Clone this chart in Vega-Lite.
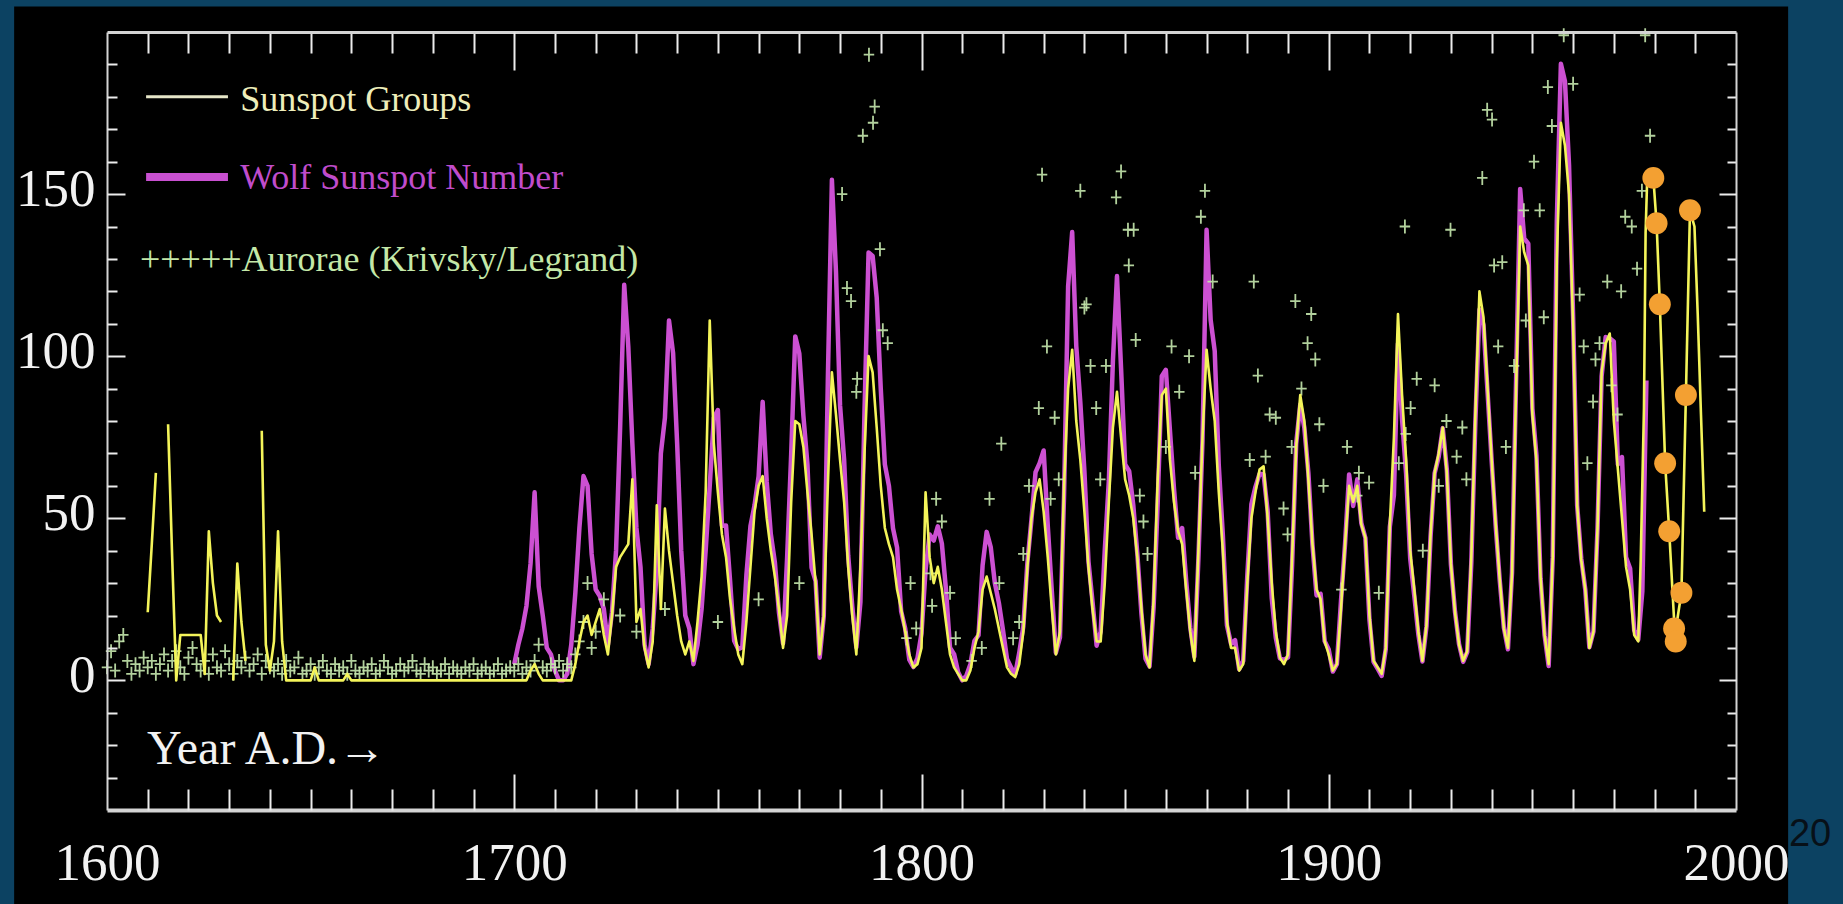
{
  "$schema": "https://vega.github.io/schema/vega-lite/v6.json",
  "width": 1629,
  "height": 778,
  "autosize": {"type": "none"},
  "padding": {"left": 107, "top": 32, "right": 107, "bottom": 94},
  "background": "#0c4262",
  "config": {
    "view": {"stroke": null},
    "axis": {
      "grid": false, "labelFlush": false, "labelOverlap": false, "labelBound": false,
      "tickColor": "#ececec", "tickWidth": 2, "domainColor": "#d4d4d4",
      "labelColor": "#f2f2f2", "labelFont": "Liberation Serif", "labelFontSize": 53
    }
  },
  "datasets": {
    "wolf": [
      {"year":1700,"ssn":5},{"year":1701,"ssn":11},{"year":1702,"ssn":16},{"year":1703,"ssn":23},{"year":1704,"ssn":36},{"year":1705,"ssn":58},{"year":1706,"ssn":29},{"year":1707,"ssn":20},{"year":1708,"ssn":10},{"year":1709,"ssn":8},
      {"year":1710,"ssn":3},{"year":1711,"ssn":0},{"year":1712,"ssn":0},{"year":1713,"ssn":2},{"year":1714,"ssn":11},{"year":1715,"ssn":27},{"year":1716,"ssn":47},{"year":1717,"ssn":63},{"year":1718,"ssn":60},{"year":1719,"ssn":39},
      {"year":1720,"ssn":28},{"year":1721,"ssn":26},{"year":1722,"ssn":22},{"year":1723,"ssn":11},{"year":1724,"ssn":21},{"year":1725,"ssn":40},{"year":1726,"ssn":78},{"year":1727,"ssn":122},{"year":1728,"ssn":103},{"year":1729,"ssn":73},
      {"year":1730,"ssn":47},{"year":1731,"ssn":35},{"year":1732,"ssn":11},{"year":1733,"ssn":5},{"year":1734,"ssn":16},{"year":1735,"ssn":34},{"year":1736,"ssn":70},{"year":1737,"ssn":81},{"year":1738,"ssn":111},{"year":1739,"ssn":101},
      {"year":1740,"ssn":73},{"year":1741,"ssn":40},{"year":1742,"ssn":20},{"year":1743,"ssn":16},{"year":1744,"ssn":5},{"year":1745,"ssn":11},{"year":1746,"ssn":22},{"year":1747,"ssn":40},{"year":1748,"ssn":60},{"year":1749,"ssn":80.9},
      {"year":1750,"ssn":83.4},{"year":1751,"ssn":47.7},{"year":1752,"ssn":47.8},{"year":1753,"ssn":30.7},{"year":1754,"ssn":12.2},{"year":1755,"ssn":9.6},{"year":1756,"ssn":10.2},{"year":1757,"ssn":32.4},{"year":1758,"ssn":47.6},{"year":1759,"ssn":54},
      {"year":1760,"ssn":62.9},{"year":1761,"ssn":85.9},{"year":1762,"ssn":61.2},{"year":1763,"ssn":45.1},{"year":1764,"ssn":36.4},{"year":1765,"ssn":20.9},{"year":1766,"ssn":11.4},{"year":1767,"ssn":37.8},{"year":1768,"ssn":69.8},{"year":1769,"ssn":106.1},
      {"year":1770,"ssn":100.8},{"year":1771,"ssn":81.6},{"year":1772,"ssn":66.5},{"year":1773,"ssn":34.8},{"year":1774,"ssn":30.6},{"year":1775,"ssn":7},{"year":1776,"ssn":19.8},{"year":1777,"ssn":92.5},{"year":1778,"ssn":154.4},{"year":1779,"ssn":125.9},
      {"year":1780,"ssn":84.8},{"year":1781,"ssn":68.1},{"year":1782,"ssn":38.5},{"year":1783,"ssn":22.8},{"year":1784,"ssn":10.2},{"year":1785,"ssn":24.1},{"year":1786,"ssn":82.9},{"year":1787,"ssn":132},{"year":1788,"ssn":130.9},{"year":1789,"ssn":118.1},
      {"year":1790,"ssn":89.9},{"year":1791,"ssn":66.6},{"year":1792,"ssn":60},{"year":1793,"ssn":46.9},{"year":1794,"ssn":41},{"year":1795,"ssn":21.3},{"year":1796,"ssn":16},{"year":1797,"ssn":6.4},{"year":1798,"ssn":4.1},{"year":1799,"ssn":6.8},
      {"year":1800,"ssn":14.5},{"year":1801,"ssn":34},{"year":1802,"ssn":45},{"year":1803,"ssn":43.1},{"year":1804,"ssn":47.5},{"year":1805,"ssn":42.2},{"year":1806,"ssn":28.1},{"year":1807,"ssn":10.1},{"year":1808,"ssn":8.1},{"year":1809,"ssn":2.5},
      {"year":1810,"ssn":0},{"year":1811,"ssn":1.4},{"year":1812,"ssn":5},{"year":1813,"ssn":12.2},{"year":1814,"ssn":13.9},{"year":1815,"ssn":35.4},{"year":1816,"ssn":45.8},{"year":1817,"ssn":41.1},{"year":1818,"ssn":30.1},{"year":1819,"ssn":23.9},
      {"year":1820,"ssn":15.6},{"year":1821,"ssn":6.6},{"year":1822,"ssn":4},{"year":1823,"ssn":1.8},{"year":1824,"ssn":8.5},{"year":1825,"ssn":16.6},{"year":1826,"ssn":36.3},{"year":1827,"ssn":49.6},{"year":1828,"ssn":64.2},{"year":1829,"ssn":67},
      {"year":1830,"ssn":70.9},{"year":1831,"ssn":47.8},{"year":1832,"ssn":27.5},{"year":1833,"ssn":8.5},{"year":1834,"ssn":13.2},{"year":1835,"ssn":56.9},{"year":1836,"ssn":121.5},{"year":1837,"ssn":138.3},{"year":1838,"ssn":103.2},{"year":1839,"ssn":85.7},
      {"year":1840,"ssn":64.6},{"year":1841,"ssn":36.7},{"year":1842,"ssn":24.2},{"year":1843,"ssn":10.7},{"year":1844,"ssn":15},{"year":1845,"ssn":40.1},{"year":1846,"ssn":61.5},{"year":1847,"ssn":98.5},{"year":1848,"ssn":124.7},{"year":1849,"ssn":96.3},
      {"year":1850,"ssn":66.6},{"year":1851,"ssn":64.5},{"year":1852,"ssn":54.1},{"year":1853,"ssn":39},{"year":1854,"ssn":20.6},{"year":1855,"ssn":6.7},{"year":1856,"ssn":4.3},{"year":1857,"ssn":22.7},{"year":1858,"ssn":54.8},{"year":1859,"ssn":93.8},
      {"year":1860,"ssn":95.8},{"year":1861,"ssn":77.2},{"year":1862,"ssn":59.1},{"year":1863,"ssn":44},{"year":1864,"ssn":47},{"year":1865,"ssn":30.5},{"year":1866,"ssn":16.3},{"year":1867,"ssn":7.3},{"year":1868,"ssn":37.6},{"year":1869,"ssn":74},
      {"year":1870,"ssn":139},{"year":1871,"ssn":111.2},{"year":1872,"ssn":101.6},{"year":1873,"ssn":66.2},{"year":1874,"ssn":44.7},{"year":1875,"ssn":17},{"year":1876,"ssn":11.3},{"year":1877,"ssn":12.4},{"year":1878,"ssn":3.4},{"year":1879,"ssn":6},
      {"year":1880,"ssn":32.3},{"year":1881,"ssn":54.3},{"year":1882,"ssn":59.7},{"year":1883,"ssn":63.7},{"year":1884,"ssn":63.5},{"year":1885,"ssn":52.2},{"year":1886,"ssn":25.4},{"year":1887,"ssn":13.1},{"year":1888,"ssn":6.8},{"year":1889,"ssn":6.3},
      {"year":1890,"ssn":7.1},{"year":1891,"ssn":35.6},{"year":1892,"ssn":73},{"year":1893,"ssn":85.1},{"year":1894,"ssn":78},{"year":1895,"ssn":64},{"year":1896,"ssn":41.8},{"year":1897,"ssn":26.2},{"year":1898,"ssn":26.7},{"year":1899,"ssn":12.1},
      {"year":1900,"ssn":9.5},{"year":1901,"ssn":2.7},{"year":1902,"ssn":5},{"year":1903,"ssn":24.4},{"year":1904,"ssn":42},{"year":1905,"ssn":63.5},{"year":1906,"ssn":53.8},{"year":1907,"ssn":62},{"year":1908,"ssn":48.5},{"year":1909,"ssn":43.9},
      {"year":1910,"ssn":18.6},{"year":1911,"ssn":5.7},{"year":1912,"ssn":3.6},{"year":1913,"ssn":1.4},{"year":1914,"ssn":9.6},{"year":1915,"ssn":47.4},{"year":1916,"ssn":57.1},{"year":1917,"ssn":103.9},{"year":1918,"ssn":80.6},{"year":1919,"ssn":63.6},
      {"year":1920,"ssn":37.6},{"year":1921,"ssn":26.1},{"year":1922,"ssn":14.2},{"year":1923,"ssn":5.8},{"year":1924,"ssn":16.7},{"year":1925,"ssn":44.3},{"year":1926,"ssn":63.9},{"year":1927,"ssn":69},{"year":1928,"ssn":77.8},{"year":1929,"ssn":64.9},
      {"year":1930,"ssn":35.7},{"year":1931,"ssn":21.2},{"year":1932,"ssn":11.1},{"year":1933,"ssn":5.7},{"year":1934,"ssn":8.7},{"year":1935,"ssn":36.1},{"year":1936,"ssn":79.7},{"year":1937,"ssn":114.4},{"year":1938,"ssn":109.6},{"year":1939,"ssn":88.8},
      {"year":1940,"ssn":67.8},{"year":1941,"ssn":47.5},{"year":1942,"ssn":30.6},{"year":1943,"ssn":16.3},{"year":1944,"ssn":9.6},{"year":1945,"ssn":33.2},{"year":1946,"ssn":92.6},{"year":1947,"ssn":151.6},{"year":1948,"ssn":136.3},{"year":1949,"ssn":134.7},
      {"year":1950,"ssn":83.9},{"year":1951,"ssn":69.4},{"year":1952,"ssn":31.5},{"year":1953,"ssn":13.9},{"year":1954,"ssn":4.4},{"year":1955,"ssn":38},{"year":1956,"ssn":141.7},{"year":1957,"ssn":190.2},{"year":1958,"ssn":184.8},{"year":1959,"ssn":159},
      {"year":1960,"ssn":112.3},{"year":1961,"ssn":53.9},{"year":1962,"ssn":37.6},{"year":1963,"ssn":27.9},{"year":1964,"ssn":10.2},{"year":1965,"ssn":15.1},{"year":1966,"ssn":47},{"year":1967,"ssn":93.8},{"year":1968,"ssn":105.9},{"year":1969,"ssn":105.5},
      {"year":1970,"ssn":104.5},{"year":1971,"ssn":66.6},{"year":1972,"ssn":68.9},{"year":1973,"ssn":38},{"year":1974,"ssn":34.5},{"year":1975,"ssn":15.5},{"year":1976,"ssn":12.6},{"year":1977,"ssn":27.5},{"year":1978,"ssn":92.5}
    ],
    "groups": [
      {"year":1610,"g":21,"seg":"a"},{"year":1611,"g":42,"seg":"a"},{"year":1612,"g":64,"seg":"a"},
      {"year":1615,"g":79,"seg":"b"},{"year":1616,"g":38,"seg":"b"},{"year":1617,"g":0,"seg":"b"},{"year":1618,"g":14,"seg":"b"},{"year":1619,"g":14,"seg":"b"},{"year":1620,"g":14,"seg":"b"},{"year":1621,"g":14,"seg":"b"},{"year":1622,"g":14,"seg":"b"},{"year":1623,"g":14,"seg":"b"},{"year":1624,"g":2,"seg":"b"},{"year":1625,"g":46,"seg":"b"},{"year":1626,"g":30,"seg":"b"},{"year":1627,"g":20,"seg":"b"},{"year":1628,"g":18,"seg":"b"},
      {"year":1631,"g":0,"seg":"c"},{"year":1632,"g":36,"seg":"c"},{"year":1633,"g":18,"seg":"c"},{"year":1634,"g":6,"seg":"c"},
      {"year":1638,"g":77,"seg":"d"},{"year":1639,"g":11,"seg":"d"},{"year":1640,"g":3,"seg":"d"},{"year":1641,"g":12,"seg":"d"},{"year":1642,"g":46,"seg":"d"},{"year":1643,"g":12,"seg":"d"},{"year":1644,"g":0,"seg":"d"},{"year":1650,"g":0,"seg":"d"},{"year":1651,"g":4,"seg":"d"},{"year":1652,"g":0,"seg":"d"},{"year":1658,"g":0,"seg":"d"},{"year":1659,"g":2,"seg":"d"},{"year":1660,"g":0,"seg":"d"},{"year":1703,"g":0,"seg":"d"},{"year":1704,"g":3,"seg":"d"},{"year":1705,"g":5,"seg":"d"},{"year":1706,"g":2,"seg":"d"},{"year":1707,"g":0,"seg":"d"},{"year":1714,"g":0,"seg":"d"},
      {"year":1715,"g":5,"seg":"d"},{"year":1716,"g":12,"seg":"d"},{"year":1717,"g":18,"seg":"d"},{"year":1718,"g":20,"seg":"d"},{"year":1719,"g":14,"seg":"d"},{"year":1720,"g":18,"seg":"d"},{"year":1721,"g":22,"seg":"d"},{"year":1722,"g":14,"seg":"d"},{"year":1723,"g":8,"seg":"d"},{"year":1724,"g":20,"seg":"d"},
      {"year":1725,"g":35,"seg":"d"},{"year":1726,"g":38,"seg":"d"},{"year":1727,"g":40,"seg":"d"},{"year":1728,"g":42,"seg":"d"},{"year":1729,"g":62,"seg":"d"},{"year":1730,"g":18,"seg":"d"},{"year":1731,"g":22,"seg":"d"},{"year":1732,"g":10,"seg":"d"},{"year":1733,"g":4,"seg":"d"},{"year":1734,"g":12,"seg":"d"},
      {"year":1735,"g":54,"seg":"d"},{"year":1736,"g":22,"seg":"d"},{"year":1737,"g":53,"seg":"d"},{"year":1738,"g":40,"seg":"d"},{"year":1739,"g":30,"seg":"d"},{"year":1740,"g":20,"seg":"d"},{"year":1741,"g":12,"seg":"d"},{"year":1742,"g":8,"seg":"d"},{"year":1743,"g":12,"seg":"d"},{"year":1744,"g":6,"seg":"d"},
      {"year":1745,"g":18,"seg":"d"},{"year":1746,"g":32,"seg":"d"},{"year":1747,"g":58,"seg":"d"},{"year":1748,"g":111,"seg":"d"},{"year":1749,"g":73,"seg":"d"},{"year":1750,"g":58,"seg":"d"},{"year":1751,"g":45,"seg":"d"},{"year":1752,"g":38,"seg":"d"},{"year":1753,"g":25,"seg":"d"},{"year":1754,"g":16,"seg":"d"},
      {"year":1755,"g":8,"seg":"d"},{"year":1756,"g":5,"seg":"d"},{"year":1757,"g":18,"seg":"d"},{"year":1758,"g":35,"seg":"d"},{"year":1759,"g":52,"seg":"d"},{"year":1760,"g":60,"seg":"d"},{"year":1761,"g":63,"seg":"d"},{"year":1762,"g":50,"seg":"d"},{"year":1763,"g":40,"seg":"d"},{"year":1764,"g":32,"seg":"d"},
      {"year":1765,"g":22,"seg":"d"},{"year":1766,"g":10,"seg":"d"},{"year":1767,"g":20,"seg":"d"},{"year":1768,"g":55,"seg":"d"},{"year":1769,"g":80,"seg":"d"},{"year":1770,"g":79,"seg":"d"},{"year":1771,"g":72,"seg":"d"},{"year":1772,"g":58,"seg":"d"},{"year":1773,"g":45,"seg":"d"},{"year":1774,"g":30,"seg":"d"},
      {"year":1775,"g":8,"seg":"d"},{"year":1776,"g":20,"seg":"d"},{"year":1777,"g":60,"seg":"d"},{"year":1778,"g":95,"seg":"d"},{"year":1779,"g":82,"seg":"d"},{"year":1780,"g":68,"seg":"d"},{"year":1781,"g":55,"seg":"d"},{"year":1782,"g":35,"seg":"d"},{"year":1783,"g":20,"seg":"d"},{"year":1784,"g":8,"seg":"d"},
      {"year":1785,"g":35,"seg":"d"},{"year":1786,"g":70,"seg":"d"},{"year":1787,"g":100,"seg":"d"},{"year":1788,"g":95,"seg":"d"},{"year":1789,"g":78,"seg":"d"},{"year":1790,"g":60,"seg":"d"},{"year":1791,"g":47,"seg":"d"},{"year":1792,"g":42,"seg":"d"},{"year":1793,"g":38,"seg":"d"},{"year":1794,"g":28,"seg":"d"},
      {"year":1795,"g":22,"seg":"d"},{"year":1796,"g":15,"seg":"d"},{"year":1797,"g":8,"seg":"d"},{"year":1798,"g":4,"seg":"d"},{"year":1799,"g":5,"seg":"d"},{"year":1800,"g":10,"seg":"d"},{"year":1801,"g":58,"seg":"d"},{"year":1802,"g":38,"seg":"d"},{"year":1803,"g":30,"seg":"d"},{"year":1804,"g":35,"seg":"d"},
      {"year":1805,"g":28,"seg":"d"},{"year":1806,"g":18,"seg":"d"},{"year":1807,"g":8,"seg":"d"},{"year":1808,"g":4,"seg":"d"},{"year":1809,"g":2,"seg":"d"},{"year":1810,"g":0,"seg":"d"},{"year":1811,"g":0,"seg":"d"},{"year":1812,"g":3,"seg":"d"},{"year":1813,"g":10,"seg":"d"},{"year":1814,"g":15,"seg":"d"},
      {"year":1815,"g":28,"seg":"d"},{"year":1816,"g":32,"seg":"d"},{"year":1817,"g":27,"seg":"d"},{"year":1818,"g":22,"seg":"d"},{"year":1819,"g":16,"seg":"d"},{"year":1820,"g":10,"seg":"d"},{"year":1821,"g":4,"seg":"d"},{"year":1822,"g":2,"seg":"d"},{"year":1823,"g":1,"seg":"d"},{"year":1824,"g":5,"seg":"d"},
      {"year":1825,"g":15,"seg":"d"},{"year":1826,"g":35,"seg":"d"},{"year":1827,"g":50,"seg":"d"},{"year":1828,"g":58,"seg":"d"},{"year":1829,"g":62,"seg":"d"},{"year":1830,"g":52,"seg":"d"},{"year":1831,"g":38,"seg":"d"},{"year":1832,"g":22,"seg":"d"},{"year":1833,"g":8,"seg":"d"},{"year":1834,"g":15,"seg":"d"},
      {"year":1835,"g":60,"seg":"d"},{"year":1836,"g":90,"seg":"d"},{"year":1837,"g":102,"seg":"d"},{"year":1838,"g":80,"seg":"d"},{"year":1839,"g":68,"seg":"d"},{"year":1840,"g":52,"seg":"d"},{"year":1841,"g":35,"seg":"d"},{"year":1842,"g":22,"seg":"d"},{"year":1843,"g":12,"seg":"d"},{"year":1844,"g":12,"seg":"d"},
      {"year":1845,"g":30,"seg":"d"},{"year":1846,"g":55,"seg":"d"},{"year":1847,"g":78,"seg":"d"},{"year":1848,"g":89,"seg":"d"},{"year":1849,"g":75,"seg":"d"},{"year":1850,"g":62,"seg":"d"},{"year":1851,"g":57,"seg":"d"},{"year":1852,"g":50,"seg":"d"},{"year":1853,"g":38,"seg":"d"},{"year":1854,"g":22,"seg":"d"},
      {"year":1855,"g":8,"seg":"d"},{"year":1856,"g":4,"seg":"d"},{"year":1857,"g":25,"seg":"d"},{"year":1858,"g":62,"seg":"d"},{"year":1859,"g":88,"seg":"d"},{"year":1860,"g":90,"seg":"d"},{"year":1861,"g":68,"seg":"d"},{"year":1862,"g":55,"seg":"d"},{"year":1863,"g":46,"seg":"d"},{"year":1864,"g":42,"seg":"d"},
      {"year":1865,"g":28,"seg":"d"},{"year":1866,"g":15,"seg":"d"},{"year":1867,"g":6,"seg":"d"},{"year":1868,"g":40,"seg":"d"},{"year":1869,"g":75,"seg":"d"},{"year":1870,"g":102,"seg":"d"},{"year":1871,"g":90,"seg":"d"},{"year":1872,"g":80,"seg":"d"},{"year":1873,"g":58,"seg":"d"},{"year":1874,"g":40,"seg":"d"},
      {"year":1875,"g":18,"seg":"d"},{"year":1876,"g":10,"seg":"d"},{"year":1877,"g":10,"seg":"d"},{"year":1878,"g":3,"seg":"d"},{"year":1879,"g":5,"seg":"d"},{"year":1880,"g":30,"seg":"d"},{"year":1881,"g":50,"seg":"d"},{"year":1882,"g":58,"seg":"d"},{"year":1883,"g":65,"seg":"d"},{"year":1884,"g":66,"seg":"d"},
      {"year":1885,"g":50,"seg":"d"},{"year":1886,"g":30,"seg":"d"},{"year":1887,"g":15,"seg":"d"},{"year":1888,"g":7,"seg":"d"},{"year":1889,"g":5,"seg":"d"},{"year":1890,"g":8,"seg":"d"},{"year":1891,"g":38,"seg":"d"},{"year":1892,"g":72,"seg":"d"},{"year":1893,"g":88,"seg":"d"},{"year":1894,"g":80,"seg":"d"},
      {"year":1895,"g":62,"seg":"d"},{"year":1896,"g":42,"seg":"d"},{"year":1897,"g":28,"seg":"d"},{"year":1898,"g":25,"seg":"d"},{"year":1899,"g":12,"seg":"d"},{"year":1900,"g":8,"seg":"d"},{"year":1901,"g":3,"seg":"d"},{"year":1902,"g":5,"seg":"d"},{"year":1903,"g":22,"seg":"d"},{"year":1904,"g":42,"seg":"d"},
      {"year":1905,"g":60,"seg":"d"},{"year":1906,"g":55,"seg":"d"},{"year":1907,"g":60,"seg":"d"},{"year":1908,"g":48,"seg":"d"},{"year":1909,"g":44,"seg":"d"},{"year":1910,"g":20,"seg":"d"},{"year":1911,"g":6,"seg":"d"},{"year":1912,"g":4,"seg":"d"},{"year":1913,"g":2,"seg":"d"},{"year":1914,"g":10,"seg":"d"},
      {"year":1915,"g":48,"seg":"d"},{"year":1916,"g":75,"seg":"d"},{"year":1917,"g":113,"seg":"d"},{"year":1918,"g":88,"seg":"d"},{"year":1919,"g":68,"seg":"d"},{"year":1920,"g":40,"seg":"d"},{"year":1921,"g":28,"seg":"d"},{"year":1922,"g":15,"seg":"d"},{"year":1923,"g":6,"seg":"d"},{"year":1924,"g":17,"seg":"d"},
      {"year":1925,"g":45,"seg":"d"},{"year":1926,"g":64,"seg":"d"},{"year":1927,"g":70,"seg":"d"},{"year":1928,"g":78,"seg":"d"},{"year":1929,"g":64,"seg":"d"},{"year":1930,"g":36,"seg":"d"},{"year":1931,"g":21,"seg":"d"},{"year":1932,"g":11,"seg":"d"},{"year":1933,"g":6,"seg":"d"},{"year":1934,"g":9,"seg":"d"},
      {"year":1935,"g":38,"seg":"d"},{"year":1936,"g":82,"seg":"d"},{"year":1937,"g":120,"seg":"d"},{"year":1938,"g":112,"seg":"d"},{"year":1939,"g":90,"seg":"d"},{"year":1940,"g":68,"seg":"d"},{"year":1941,"g":48,"seg":"d"},{"year":1942,"g":31,"seg":"d"},{"year":1943,"g":16,"seg":"d"},{"year":1944,"g":10,"seg":"d"},
      {"year":1945,"g":33,"seg":"d"},{"year":1946,"g":90,"seg":"d"},{"year":1947,"g":140,"seg":"d"},{"year":1948,"g":132,"seg":"d"},{"year":1949,"g":128,"seg":"d"},{"year":1950,"g":82,"seg":"d"},{"year":1951,"g":68,"seg":"d"},{"year":1952,"g":32,"seg":"d"},{"year":1953,"g":14,"seg":"d"},{"year":1954,"g":5,"seg":"d"},
      {"year":1955,"g":38,"seg":"d"},{"year":1956,"g":130,"seg":"d"},{"year":1957,"g":172,"seg":"d"},{"year":1958,"g":165,"seg":"d"},{"year":1959,"g":150,"seg":"d"},{"year":1960,"g":110,"seg":"d"},{"year":1961,"g":54,"seg":"d"},{"year":1962,"g":37,"seg":"d"},{"year":1963,"g":28,"seg":"d"},{"year":1964,"g":10,"seg":"d"},
      {"year":1965,"g":15,"seg":"d"},{"year":1966,"g":47,"seg":"d"},{"year":1967,"g":95,"seg":"d"},{"year":1968,"g":104,"seg":"d"},{"year":1969,"g":107,"seg":"d"},{"year":1970,"g":80,"seg":"d"},{"year":1971,"g":65,"seg":"d"},{"year":1972,"g":50,"seg":"d"},{"year":1973,"g":35,"seg":"d"},{"year":1974,"g":28,"seg":"d"},
      {"year":1975,"g":14,"seg":"d"},{"year":1976,"g":12,"seg":"d"},{"year":1976.6,"g":37,"seg":"d"},{"year":1977.4,"g":84,"seg":"d"},{"year":1977.8,"g":138,"seg":"d"},{"year":1978.2,"g":155,"seg":"d"},{"year":1979.7,"g":155,"seg":"d"},{"year":1980.5,"g":141,"seg":"d"},{"year":1981.3,"g":116,"seg":"d"},{"year":1982.6,"g":67,"seg":"d"},
      {"year":1983.6,"g":46,"seg":"d"},{"year":1985.0,"g":14,"seg":"d"},{"year":1986.6,"g":27,"seg":"d"},{"year":1987.7,"g":88,"seg":"d"},{"year":1988.7,"g":145,"seg":"d"},{"year":1989.8,"g":140,"seg":"d"},{"year":1990.6,"g":113,"seg":"d"},{"year":1991.4,"g":82,"seg":"d"},{"year":1992.2,"g":52,"seg":"d"}
    ],
    "dots": [
      {"year":1979.7,"v":155},{"year":1980.5,"v":141},{"year":1981.3,"v":116},{"year":1982.6,"v":67},{"year":1983.6,"v":46},{"year":1984.8,"v":16},{"year":1985.2,"v":12},{"year":1986.6,"v":27},{"year":1987.7,"v":88},{"year":1988.7,"v":145}
    ],
    "aurora": [
      {"year":1600,"n":4},{"year":1601,"n":9},{"year":1602,"n":3},{"year":1603,"n":12},{"year":1604,"n":14},{"year":1605,"n":6},{"year":1606,"n":2},{"year":1607,"n":5},{"year":1608,"n":3},{"year":1609,"n":7},
      {"year":1610,"n":4},{"year":1611,"n":6},{"year":1612,"n":2},{"year":1613,"n":5},{"year":1614,"n":8},{"year":1615,"n":3},{"year":1616,"n":6},{"year":1617,"n":9},{"year":1618,"n":4},{"year":1619,"n":2},
      {"year":1620,"n":7},{"year":1621,"n":10},{"year":1622,"n":5},{"year":1623,"n":3},{"year":1624,"n":6},{"year":1625,"n":2},{"year":1626,"n":8},{"year":1627,"n":4},{"year":1628,"n":3},{"year":1629,"n":9},
      {"year":1630,"n":5},{"year":1631,"n":2},{"year":1632,"n":6},{"year":1633,"n":4},{"year":1634,"n":7},{"year":1635,"n":3},{"year":1636,"n":5},{"year":1637,"n":8},{"year":1638,"n":2},{"year":1639,"n":6},
      {"year":1640,"n":4},{"year":1641,"n":3},{"year":1642,"n":5},{"year":1643,"n":2},{"year":1644,"n":6},{"year":1645,"n":3},{"year":1646,"n":4},{"year":1647,"n":7},{"year":1648,"n":2},{"year":1649,"n":3},
      {"year":1650,"n":5},{"year":1651,"n":2},{"year":1652,"n":4},{"year":1653,"n":6},{"year":1654,"n":3},{"year":1655,"n":2},{"year":1656,"n":5},{"year":1657,"n":3},{"year":1658,"n":4},{"year":1659,"n":2},
      {"year":1660,"n":6},{"year":1661,"n":3},{"year":1662,"n":2},{"year":1663,"n":4},{"year":1664,"n":3},{"year":1665,"n":5},{"year":1666,"n":2},{"year":1667,"n":3},{"year":1668,"n":6},{"year":1669,"n":4},
      {"year":1670,"n":2},{"year":1671,"n":3},{"year":1672,"n":5},{"year":1673,"n":3},{"year":1674,"n":4},{"year":1675,"n":6},{"year":1676,"n":3},{"year":1677,"n":2},{"year":1678,"n":5},{"year":1679,"n":3},
      {"year":1680,"n":4},{"year":1681,"n":2},{"year":1682,"n":3},{"year":1683,"n":5},{"year":1684,"n":2},{"year":1685,"n":4},{"year":1686,"n":3},{"year":1687,"n":2},{"year":1688,"n":4},{"year":1689,"n":3},
      {"year":1690,"n":5},{"year":1691,"n":2},{"year":1692,"n":3},{"year":1693,"n":4},{"year":1694,"n":2},{"year":1695,"n":3},{"year":1696,"n":5},{"year":1697,"n":2},{"year":1698,"n":3},{"year":1699,"n":4},
      {"year":1700,"n":3},{"year":1701,"n":5},{"year":1702,"n":2},{"year":1703,"n":4},{"year":1704,"n":3},{"year":1705,"n":6},{"year":1706,"n":11},{"year":1707,"n":4},{"year":1708,"n":3},{"year":1709,"n":5},
      {"year":1710,"n":4},{"year":1711,"n":6},{"year":1712,"n":3},{"year":1713,"n":5},{"year":1714,"n":4},{"year":1715,"n":8},{"year":1716,"n":12},{"year":1717,"n":18},{"year":1718,"n":30},{"year":1719,"n":10},{"year":1720,"n":15},
      {"year":1722,"n":25},{"year":1726,"n":20},{"year":1730,"n":15},{"year":1737,"n":22},{"year":1750,"n":18},{"year":1760,"n":25},{"year":1770,"n":30},
      {"year":1780.5,"n":150},{"year":1781.7,"n":121},{"year":1782.7,"n":117},{"year":1784.2,"n":93},{"year":1784.0,"n":89},{"year":1785.6,"n":168},{"year":1787.1,"n":193},{"year":1788.1,"n":172},{"year":1788.5,"n":177},{"year":1789.8,"n":133},{"year":1790.5,"n":108},{"year":1791.7,"n":104},
      {"year":1796.3,"n":13},{"year":1797.3,"n":30},{"year":1798.7,"n":16},{"year":1802.6,"n":23},{"year":1802.2,"n":33},{"year":1803.6,"n":56},{"year":1805,"n":49},{"year":1807,"n":27},{"year":1808.4,"n":13},{"year":1812.3,"n":6},{"year":1814.8,"n":10},
      {"year":1816.7,"n":56},{"year":1819.1,"n":30},{"year":1819.6,"n":73},{"year":1822.5,"n":13},{"year":1824,"n":18},{"year":1825,"n":39},{"year":1826.4,"n":60},{"year":1828.8,"n":84},{"year":1829.6,"n":156},{"year":1830.8,"n":103},{"year":1831.7,"n":56},{"year":1832.7,"n":81},{"year":1833.7,"n":62},
      {"year":1839,"n":151},{"year":1840,"n":115},{"year":1840.5,"n":116},{"year":1841.5,"n":97},{"year":1842.9,"n":84},{"year":1843.9,"n":62},{"year":1845.3,"n":97},{"year":1847.8,"n":149},{"year":1849,"n":157},{"year":1850.7,"n":139},{"year":1850.9,"n":128},{"year":1852.1,"n":139},
      {"year":1852.6,"n":105},{"year":1853.6,"n":57},{"year":1854.5,"n":49},{"year":1855.5,"n":39},{"year":1860,"n":72},{"year":1861.4,"n":103},{"year":1863.3,"n":89},{"year":1865.7,"n":100},{"year":1867.2,"n":64},{"year":1868.6,"n":143},{"year":1869.6,"n":151},{"year":1871.5,"n":123},
      {"year":1880.6,"n":68},{"year":1881.6,"n":123},{"year":1882.6,"n":94},{"year":1884.5,"n":69},{"year":1885.5,"n":82},{"year":1887,"n":81},{"year":1888.9,"n":53},{"year":1889.9,"n":45},{"year":1890.9,"n":72},{"year":1891.8,"n":117},{"year":1893.3,"n":90},{"year":1894.8,"n":104},
      {"year":1895.7,"n":113},{"year":1896.7,"n":99},{"year":1897.7,"n":79},{"year":1898.7,"n":60},{"year":1903.1,"n":28},{"year":1904.5,"n":72},{"year":1907,"n":57},{"year":1907.4,"n":64},{"year":1909.9,"n":61},{"year":1912.3,"n":27},
      {"year":1917.2,"n":67},{"year":1918.7,"n":140},{"year":1918.9,"n":76},{"year":1920.1,"n":84},{"year":1921.6,"n":93},{"year":1923.1,"n":40},{"year":1926,"n":91},{"year":1927,"n":60},{"year":1928.9,"n":80},{"year":1929.9,"n":139},{"year":1931.4,"n":69},{"year":1932.8,"n":78},{"year":1933.8,"n":62},
      {"year":1937.7,"n":155},{"year":1938.9,"n":176},{"year":1940.1,"n":173},{"year":1940.6,"n":128},{"year":1941.6,"n":103},{"year":1942.6,"n":129},{"year":1943.5,"n":72},{"year":1945.5,"n":97},{"year":1947.9,"n":145},{"year":1948.4,"n":111},{"year":1950.4,"n":160},{"year":1951.8,"n":145},
      {"year":1952.8,"n":112},{"year":1953.8,"n":183},{"year":1954.8,"n":171},{"year":1957.7,"n":199},{"year":1960,"n":184},{"year":1961.6,"n":119},{"year":1962.6,"n":103},{"year":1963.5,"n":67},{"year":1964.9,"n":86},{"year":1965.5,"n":99},{"year":1966.5,"n":104},
      {"year":1968.4,"n":123},{"year":1969.4,"n":91},{"year":1970.9,"n":82},{"year":1971.8,"n":120},{"year":1972.8,"n":143},{"year":1974.4,"n":140},{"year":1975.7,"n":127},{"year":1976.9,"n":151},{"year":1977.7,"n":199},{"year":1978.9,"n":168}
    ]
  },
  "resolve": {"axis": {"x": "independent", "y": "independent"}},
  "layer": [
    {
      "data": {"values": [{}]},
      "mark": {"type": "rect", "color": "#000000"},
      "encoding": {
        "x": {"datum": 1577.2, "type": "quantitative", "scale": {"domain": [1600, 2000], "nice": false, "zero": false},
              "axis": {"orient": "bottom", "zindex": 2, "title": null, "values": [1600, 1700, 1800, 1900, 2000], "format": "d", "ticks": false, "tickSize": 0, "domain": true, "domainWidth": 4, "labelAlign": "center", "labelBaseline": "middle", "labelPadding": 53}},
        "x2": {"datum": 2012.8},
        "y": {"datum": -90, "type": "quantitative", "scale": {"domain": [-40, 200], "nice": false, "zero": false},
              "axis": {"orient": "left", "zindex": 2, "title": null, "values": [0, 50, 100, 150], "format": "d", "ticks": false, "tickSize": 0, "domain": true, "domainWidth": 2, "labelBaseline": "middle", "labelPadding": 12, "labelOffset": -5}},
        "y2": {"datum": 207.9}
      }
    },
    {
      "data": {"name": "wolf"},
      "mark": {"type": "line", "color": "#cc50d2", "strokeWidth": 4.5, "strokeJoin": "round"},
      "encoding": {
        "x": {"field": "year", "type": "quantitative", "scale": {"domain": [1600, 2000], "nice": false, "zero": false},
              "axis": {"orient": "bottom", "zindex": 2, "title": null, "labels": false, "domain": false, "tickSize": -21,
                       "values": [1610,1620,1630,1640,1650,1660,1670,1680,1690,1710,1720,1730,1740,1750,1760,1770,1780,1790,1810,1820,1830,1840,1850,1860,1870,1880,1890,1910,1920,1930,1940,1950,1960,1970,1980,1990]}},
        "y": {"field": "ssn", "type": "quantitative", "scale": {"domain": [-40, 200], "nice": false, "zero": false},
              "axis": {"orient": "left", "zindex": 2, "title": null, "labels": false, "domain": false, "tickSize": -10,
                       "values": [-30,-20,-10,10,20,30,40,60,70,80,90,110,120,130,140,160,170,180,190]}}
      }
    },
    {
      "data": {"name": "aurora"},
      "mark": {"type": "point", "shape": "M-0.75,0H0.75M0,-1V1", "filled": false, "stroke": "#c6e8ae", "strokeWidth": 1.8, "size": 196, "opacity": 0.9},
      "encoding": {
        "x": {"field": "year", "type": "quantitative", "scale": {"domain": [1600, 2000], "nice": false, "zero": false},
              "axis": {"orient": "bottom", "zindex": 2, "title": null, "labels": false, "domain": false, "tickSize": -36, "values": [1700, 1800, 1900]}},
        "y": {"field": "n", "type": "quantitative", "scale": {"domain": [-40, 200], "nice": false, "zero": false},
              "axis": {"orient": "left", "zindex": 2, "title": null, "labels": false, "domain": false, "tickSize": -18, "values": [0, 50, 100, 150]}}
      }
    },
    {
      "data": {"name": "groups"},
      "mark": {"type": "line", "color": "#f4f45a", "strokeWidth": 2.6, "strokeJoin": "round"},
      "encoding": {
        "detail": {"field": "seg", "type": "nominal"},
        "x": {"field": "year", "type": "quantitative", "scale": {"domain": [1600, 2000], "nice": false, "zero": false},
              "axis": {"orient": "top", "zindex": 2, "title": null, "labels": false, "domain": true, "domainWidth": 3, "tickSize": -21,
                       "values": [1610,1620,1630,1640,1650,1660,1670,1680,1690,1710,1720,1730,1740,1750,1760,1770,1780,1790,1810,1820,1830,1840,1850,1860,1870,1880,1890,1910,1920,1930,1940,1950,1960,1970,1980,1990]}},
        "y": {"field": "g", "type": "quantitative", "scale": {"domain": [-40, 200], "nice": false, "zero": false},
              "axis": {"orient": "right", "zindex": 2, "title": null, "labels": false, "domain": true, "domainWidth": 2, "tickSize": -9,
                       "values": [-30,-20,-10,10,20,30,40,60,70,80,90,110,120,130,140,160,170,180,190]}}
      }
    },
    {
      "data": {"name": "dots"},
      "mark": {"type": "point", "shape": "circle", "filled": true, "color": "#f3a032", "size": 480, "opacity": 1},
      "encoding": {
        "x": {"field": "year", "type": "quantitative", "scale": {"domain": [1600, 2000], "nice": false, "zero": false},
              "axis": {"orient": "top", "zindex": 2, "title": null, "labels": false, "domain": false, "tickSize": -38, "values": [1700, 1800, 1900]}},
        "y": {"field": "v", "type": "quantitative", "scale": {"domain": [-40, 200], "nice": false, "zero": false},
              "axis": {"orient": "right", "zindex": 2, "title": null, "labels": false, "domain": false, "tickSize": -17, "values": [0, 50, 100, 150]}}
      }
    },
    {
      "data": {"values": [{}]},
      "mark": {"type": "rule", "color": "#e6e6c8", "strokeWidth": 3},
      "encoding": {
        "x": {"datum": 1609.6, "type": "quantitative", "scale": {"domain": [1600, 2000], "nice": false, "zero": false}, "axis": null},
        "x2": {"datum": 1629.7},
        "y": {"datum": 180, "type": "quantitative", "scale": {"domain": [-40, 200], "nice": false, "zero": false}, "axis": null}
      }
    },
    {
      "data": {"values": [{}]},
      "mark": {"type": "rule", "color": "#c850d0", "strokeWidth": 8},
      "encoding": {
        "x": {"datum": 1609.6, "type": "quantitative", "scale": {"domain": [1600, 2000], "nice": false, "zero": false}, "axis": null},
        "x2": {"datum": 1629.7},
        "y": {"datum": 155.3, "type": "quantitative", "scale": {"domain": [-40, 200], "nice": false, "zero": false}, "axis": null}
      }
    },
    {
      "data": {"values": [{}]},
      "mark": {"type": "text", "text": "Sunspot Groups", "align": "left", "baseline": "middle", "font": "Liberation Serif", "fontSize": 36, "color": "#eeeebb"},
      "encoding": {
        "x": {"datum": 1632.7, "type": "quantitative", "scale": {"domain": [1600, 2000], "nice": false, "zero": false}, "axis": null},
        "y": {"datum": 179, "type": "quantitative", "scale": {"domain": [-40, 200], "nice": false, "zero": false}, "axis": null}
      }
    },
    {
      "data": {"values": [{}]},
      "mark": {"type": "text", "text": "Wolf Sunspot Number", "align": "left", "baseline": "middle", "font": "Liberation Serif", "fontSize": 36, "color": "#c04ccc"},
      "encoding": {
        "x": {"datum": 1632.7, "type": "quantitative", "scale": {"domain": [1600, 2000], "nice": false, "zero": false}, "axis": null},
        "y": {"datum": 155, "type": "quantitative", "scale": {"domain": [-40, 200], "nice": false, "zero": false}, "axis": null}
      }
    },
    {
      "data": {"values": [{}]},
      "mark": {"type": "text", "text": "+++++Aurorae (Krivsky/Legrand)", "align": "left", "baseline": "middle", "font": "Liberation Serif", "fontSize": 36, "color": "#c4e8a8"},
      "encoding": {
        "x": {"datum": 1608.1, "type": "quantitative", "scale": {"domain": [1600, 2000], "nice": false, "zero": false}, "axis": null},
        "y": {"datum": 129.7, "type": "quantitative", "scale": {"domain": [-40, 200], "nice": false, "zero": false}, "axis": null}
      }
    },
    {
      "data": {"values": [{}]},
      "mark": {"type": "text", "text": "Year A.D.→", "align": "left", "baseline": "middle", "font": "Liberation Serif", "fontSize": 48, "color": "#f2f2f2"},
      "encoding": {
        "x": {"datum": 1609.8, "type": "quantitative", "scale": {"domain": [1600, 2000], "nice": false, "zero": false}, "axis": null},
        "y": {"datum": -21.5, "type": "quantitative", "scale": {"domain": [-40, 200], "nice": false, "zero": false}, "axis": null}
      }
    },
    {
      "data": {"values": [{}]},
      "mark": {"type": "text", "text": "20", "align": "center", "baseline": "middle", "font": "Liberation Sans", "fontSize": 38, "color": "#071018"},
      "encoding": {
        "x": {"datum": 2018.2, "type": "quantitative", "scale": {"domain": [1600, 2000], "nice": false, "zero": false}, "axis": null},
        "y": {"datum": -47.7, "type": "quantitative", "scale": {"domain": [-40, 200], "nice": false, "zero": false}, "axis": null}
      }
    }
  ]
}
